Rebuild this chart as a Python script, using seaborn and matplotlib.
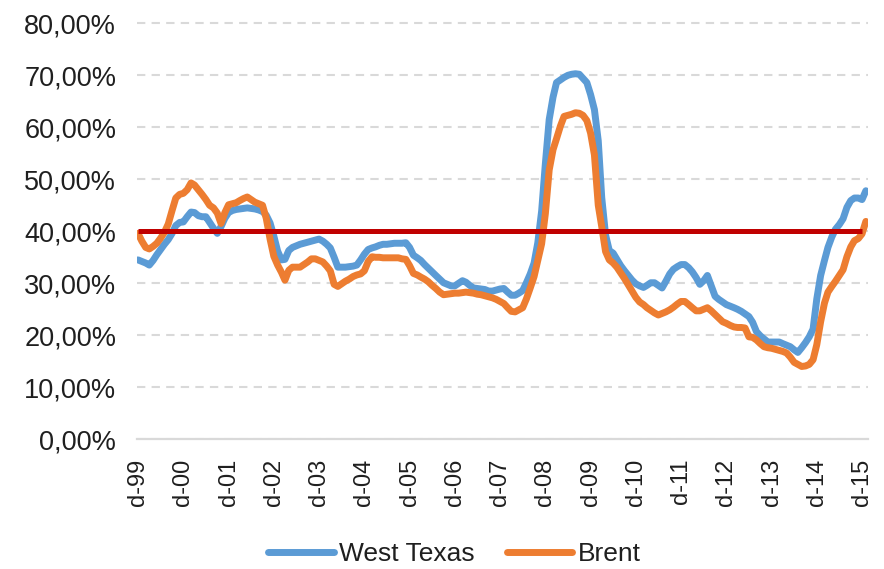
import numpy as np
import pandas as pd
import seaborn as sns
import matplotlib.pyplot as plt
from matplotlib.ticker import FuncFormatter

# monthly readings, Dec-1999 .. Jan-2016 (%)
west_texas = [
    34.5, 34.2, 33.9, 33.5, 34.4, 35.5, 36.5, 37.5, 38.4, 39.6, 41.1, 41.7,
    41.8, 42.8, 43.7, 43.6, 43.0, 42.8, 42.8, 41.7, 40.6, 39.6, 40.9, 42.5,
    43.6, 44.0, 44.2, 44.3, 44.4, 44.5, 44.4, 44.3, 44.1, 43.8, 43.1, 41.6,
    39.1, 36.2, 34.5, 34.6, 36.3, 36.9, 37.2, 37.5, 37.7, 37.9, 38.1, 38.3,
    38.5, 38.1, 37.5, 36.8, 35.0, 33.1, 33.1, 33.1, 33.2, 33.3, 33.5, 34.5,
    35.6, 36.5, 36.8, 37.0, 37.3, 37.5, 37.5, 37.6, 37.7, 37.7, 37.7, 37.8,
    36.9, 35.4, 34.9, 34.4, 33.6, 32.9, 32.2, 31.5, 30.8, 30.1, 29.8, 29.5,
    29.5, 30.0, 30.5, 30.2, 29.6, 29.1, 29.0, 28.9, 28.8, 28.5, 28.5, 28.7,
    28.9, 29.0, 28.3, 27.7, 27.7, 28.1, 28.6, 30.1, 31.8, 33.9, 37.8, 43.9,
    53.0, 61.5, 65.8, 68.6, 69.1, 69.6, 70.0, 70.2, 70.3, 70.2, 69.4, 68.6,
    66.3, 63.4, 57.4, 46.5, 39.3, 36.3, 35.8, 34.6, 33.4, 32.4, 31.5, 30.6,
    29.9, 29.5, 29.2, 29.6, 30.1, 30.1, 29.6, 29.1, 30.4, 31.8, 32.7, 33.2,
    33.6, 33.6, 33.0, 32.2, 31.1, 29.8, 30.5, 31.5, 29.5, 27.5, 26.9, 26.4,
    25.9, 25.6, 25.3, 25.0, 24.6, 24.1, 23.6, 22.5, 20.7, 19.9, 19.3, 18.7,
    18.7, 18.7, 18.7, 18.4, 18.1, 17.8, 17.2, 16.7, 17.6, 18.6, 19.7, 21.2,
    27.0, 31.5, 34.4, 36.9, 38.9, 40.4, 41.3, 42.4, 44.6, 45.9, 46.4, 46.4,
    46.1, 47.8,
]
brent = [
    39.6, 38.1, 36.9, 36.6, 37.1, 37.7, 38.7, 39.8, 41.4, 44.0, 46.4, 47.1,
    47.3, 48.0, 49.3, 48.9, 48.0, 47.1, 46.1, 45.0, 44.5, 43.5, 41.5, 43.6,
    45.1, 45.3, 45.5, 45.9, 46.3, 46.6, 46.1, 45.6, 45.3, 45.0, 42.5, 38.5,
    35.2, 33.5, 32.1, 30.6, 32.5, 33.1, 33.1, 33.1, 33.6, 34.1, 34.7, 34.7,
    34.4, 34.1, 33.3, 32.4, 29.8, 29.4, 29.9, 30.4, 30.8, 31.3, 31.6, 31.8,
    32.4, 34.2, 35.1, 35.0, 35.0, 34.9, 34.9, 34.9, 34.9, 34.9, 34.7, 34.6,
    33.4, 31.9, 31.6, 31.2, 30.8, 30.3, 29.6, 29.0, 28.3, 27.8, 27.9, 28.0,
    28.1, 28.1, 28.2, 28.3, 28.2, 28.1, 27.9, 27.8, 27.6, 27.4, 27.2, 26.9,
    26.5, 26.1, 25.3, 24.6, 24.5, 24.9, 25.3, 27.0, 29.1, 31.3, 34.4, 37.6,
    43.4, 51.8, 55.7, 57.8, 60.2, 62.1, 62.3, 62.5, 62.8, 62.7, 62.3, 61.3,
    58.9, 54.7, 45.0, 40.9, 36.1, 34.5, 33.9, 33.1, 32.0, 30.9, 29.7, 28.5,
    27.3, 26.4, 25.9, 25.3, 24.8, 24.3, 23.9, 24.2, 24.5, 24.9, 25.4, 26.0,
    26.5, 26.5, 25.9, 25.3, 24.7, 24.7, 25.0, 25.3, 24.7, 24.0, 23.3, 22.6,
    22.3, 21.9, 21.6, 21.5, 21.5, 21.4, 19.7, 19.6, 19.1, 18.4, 17.8, 17.6,
    17.5, 17.3, 17.1, 16.9, 16.6, 15.8, 14.8, 14.4, 14.0, 14.1, 14.4, 15.3,
    18.2, 22.6, 26.2, 28.3, 29.4, 30.4, 31.5, 32.6, 35.1, 37.0, 38.2, 38.6,
    39.5, 41.9,
]
threshold = 40.0
tick_labels = ["d-99", "d-00", "d-01", "d-02", "d-03", "d-04", "d-05", "d-06",
               "d-07", "d-08", "d-09", "d-10", "d-11", "d-12", "d-13", "d-14", "d-15"]

dates = pd.date_range("1999-12-01", periods=len(west_texas), freq="MS")
df = pd.concat([
    pd.DataFrame({"date": dates, "value": west_texas, "series": "West Texas"}),
    pd.DataFrame({"date": dates, "value": brent, "series": "Brent"}),
])

sns.set_style("white")
plt.rcParams["font.family"] = ["Liberation Sans", "DejaVu Sans"]

fig = plt.figure(figsize=(8.84, 5.69), dpi=100)
ax = fig.add_axes([0.155, 0.228, 0.827, 0.7356])

sns.lineplot(data=df, x="date", y="value", hue="series",
             palette={"West Texas": "#5B9BD5", "Brent": "#ED7D31"},
             linewidth=5.0, ax=ax, legend=False)
# 40% reference level
ax.hlines(threshold, dates[0], dates[-2], color="#C00000", linewidth=3.6, zorder=5)

ax.set_ylim(0, 80.5)
ax.set_yticks(np.arange(0, 81, 10))
ax.yaxis.set_major_formatter(FuncFormatter(lambda v, p: f"{v:.2f}%".replace(".", ",")))
ax.set_xlim(dates[0] - pd.Timedelta(days=8), dates[-1] + pd.Timedelta(days=18))
ax.set_xticks(dates[::12])
ax.set_xticklabels(tick_labels, rotation=90)
ax.set_xlabel("")
ax.set_ylabel("")

ax.grid(axis="y", color="#D9D9D9", linestyle=(0, (4, 3)), linewidth=1.5)
ax.set_axisbelow(True)
for s in ["top", "right", "left"]:
    ax.spines[s].set_visible(False)
ax.spines["bottom"].set_color("#D9D9D9")
ax.spines["bottom"].set_linewidth(1.6)
ax.tick_params(axis="y", length=0, pad=15, labelsize=19.5, labelcolor="#1f1f1f")
ax.tick_params(axis="x", length=0, pad=14, labelsize=17, labelcolor="#1f1f1f")

handles = [plt.Line2D([], [], color="#5B9BD5", linewidth=5.0),
           plt.Line2D([], [], color="#ED7D31", linewidth=5.0)]
fig.legend(handles, ["West Texas", "Brent"], loc="center", bbox_to_anchor=(0.514, 0.026),
           ncol=2, frameon=False, fontsize=19, handlelength=2.5, handletextpad=0.2,
           columnspacing=1.2, labelcolor="#1f1f1f")

fig.savefig("out.png", dpi=100)
